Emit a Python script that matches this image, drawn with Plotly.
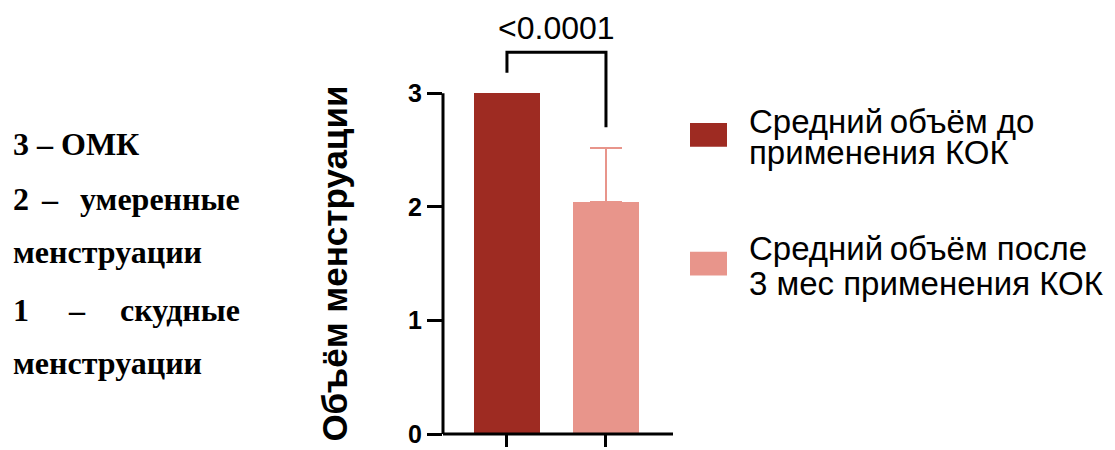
import plotly.graph_objects as go

# ---- data ----
groups = ["Средний объём до применения КОК", "Средний объём после 3 мес применения КОК"]
group_pos = [0, 1]
means = [3.0, 2.04]
err_plus = [0.0, 0.48]
bar_colors = ["#9E2B22", "#E8958B"]
y_ticks = [0, 1, 2, 3]
p_value_text = "<0.0001"
bracket_y = 3.36
bracket_left_bottom = 3.18
bracket_right_bottom = 2.70
legend_lines = [["Средний\u2009объём до", "применения КОК"],
                ["Средний\u2009объём после", "3 мес применения КОК"]]
y_title = "Объём менструации"
left_note = [("3 – ОМК",), ("2", "–", "умеренные"), ("менструации",),
             ("1", "–", "скудные"), ("менструации",)]

# page body adds an 8px offset; work in reference pixel coords
O = 8
W, H = 1115 - O, 450 - O
L, R, T, B = 435, 442, 2, 12
PW = W - L - R
PH = H - T - B


def xp(p):
    return (p - O - L) / PW


def yp(p):
    return (H - B - (p - O)) / PH


fig = go.Figure()
for i in range(2):
    fig.add_trace(go.Bar(
        x=[group_pos[i]], y=[means[i]], width=0.667,
        marker=dict(color=bar_colors[i], line=dict(width=0)),
        error_y=dict(type="data", symmetric=False, array=[err_plus[i]], arrayminus=[0],
                     color=bar_colors[1], thickness=2, width=16,
                     visible=err_plus[i] > 0),
        showlegend=False, hoverinfo="skip",
    ))

shapes = []
# y axis line (0..3) and x axis line
shapes.append(dict(type="line", xref="x domain", yref="y", x0=0, x1=0, y0=0, y1=3,
                   line=dict(color="black", width=3)))
shapes.append(dict(type="line", xref="paper", yref="paper", x0=0, x1=1, y0=0, y1=0,
                   line=dict(color="black", width=3)))
shapes.append(dict(type="path", xref="x", yref="y",
                   path=f"M {group_pos[0]},{bracket_left_bottom} L {group_pos[0]},{bracket_y} "
                        f"L {group_pos[1]},{bracket_y} L {group_pos[1]},{bracket_right_bottom}",
                   line=dict(color="black", width=3)))
sw_y = [(124, 148), (254, 278)]
for i in range(2):
    shapes.append(dict(type="rect", xref="paper", yref="paper",
                       x0=xp(690), x1=xp(727), y0=yp(sw_y[i][1]), y1=yp(sw_y[i][0]),
                       fillcolor=bar_colors[i], line=dict(width=0)))

ann = []
ann.append(dict(x=0.5, y=3.57, xref="x", yref="y", text=p_value_text, showarrow=False,
                font=dict(family="Liberation Sans", size=32, color="black"),
                xanchor="center", yanchor="middle"))
ann.append(dict(x=xp(335), y=yp(266), xref="paper", yref="paper", text=f"<b>{y_title}</b>",
                textangle=-90, showarrow=False,
                font=dict(family="Liberation Sans", size=35, color="black"),
                xanchor="center", yanchor="middle"))
leg_y = [[123, 154], [251, 286]]
for i in range(2):
    for j in range(2):
        ann.append(dict(x=xp(747), y=yp(leg_y[i][j]), xref="paper", yref="paper",
                        text=legend_lines[i][j], showarrow=False,
                        font=dict(family="Liberation Sans", size=33, color="black"),
                        xanchor="left", yanchor="middle"))
note_y = [145, 201, 254, 313, 366]
nf = dict(family="Liberation Serif", size=32, color="black")
for k, parts in enumerate(left_note):
    y = yp(note_y[k])
    if len(parts) == 1:
        ann.append(dict(x=xp(11), y=y, xref="paper", yref="paper", text=f"<b>{parts[0]}</b>",
                        showarrow=False, font=nf, xanchor="left", yanchor="middle"))
    else:
        dash_x = 50 if parts[0] == "2" else 77
        ann.append(dict(x=xp(11), y=y, xref="paper", yref="paper", text=f"<b>{parts[0]}</b>",
                        showarrow=False, font=nf, xanchor="left", yanchor="middle"))
        ann.append(dict(x=xp(dash_x), y=y, xref="paper", yref="paper", text=f"<b>{parts[1]}</b>",
                        showarrow=False, font=nf, xanchor="center", yanchor="middle"))
        ann.append(dict(x=xp(242), y=y, xref="paper", yref="paper", text=f"<b>{parts[2]}</b>",
                        showarrow=False, font=nf, xanchor="right", yanchor="middle"))

y_top = (438 - 10) / ((438 - 94) / 3)

fig.update_layout(
    width=W, height=H,
    margin=dict(l=L, r=R, t=T, b=B, pad=0),
    paper_bgcolor="white", plot_bgcolor="white",
    bargap=0, showlegend=False,
    shapes=shapes, annotations=ann,
    xaxis=dict(range=[-0.646, 1.677], tickvals=group_pos, showticklabels=False,
               ticks="outside", ticklen=12, tickwidth=3, tickcolor="black",
               showline=False, showgrid=False, zeroline=False, fixedrange=True),
    yaxis=dict(range=[0, y_top], tickvals=y_ticks, ticktext=[f"<b>{v}</b>" for v in y_ticks],
               ticks="outside", ticklen=15, tickwidth=3, tickcolor="black",
               tickfont=dict(family="Liberation Sans", size=25, color="black"),
               showline=False, showgrid=False, zeroline=False, fixedrange=True),
)

fig.write_html("out.html")
